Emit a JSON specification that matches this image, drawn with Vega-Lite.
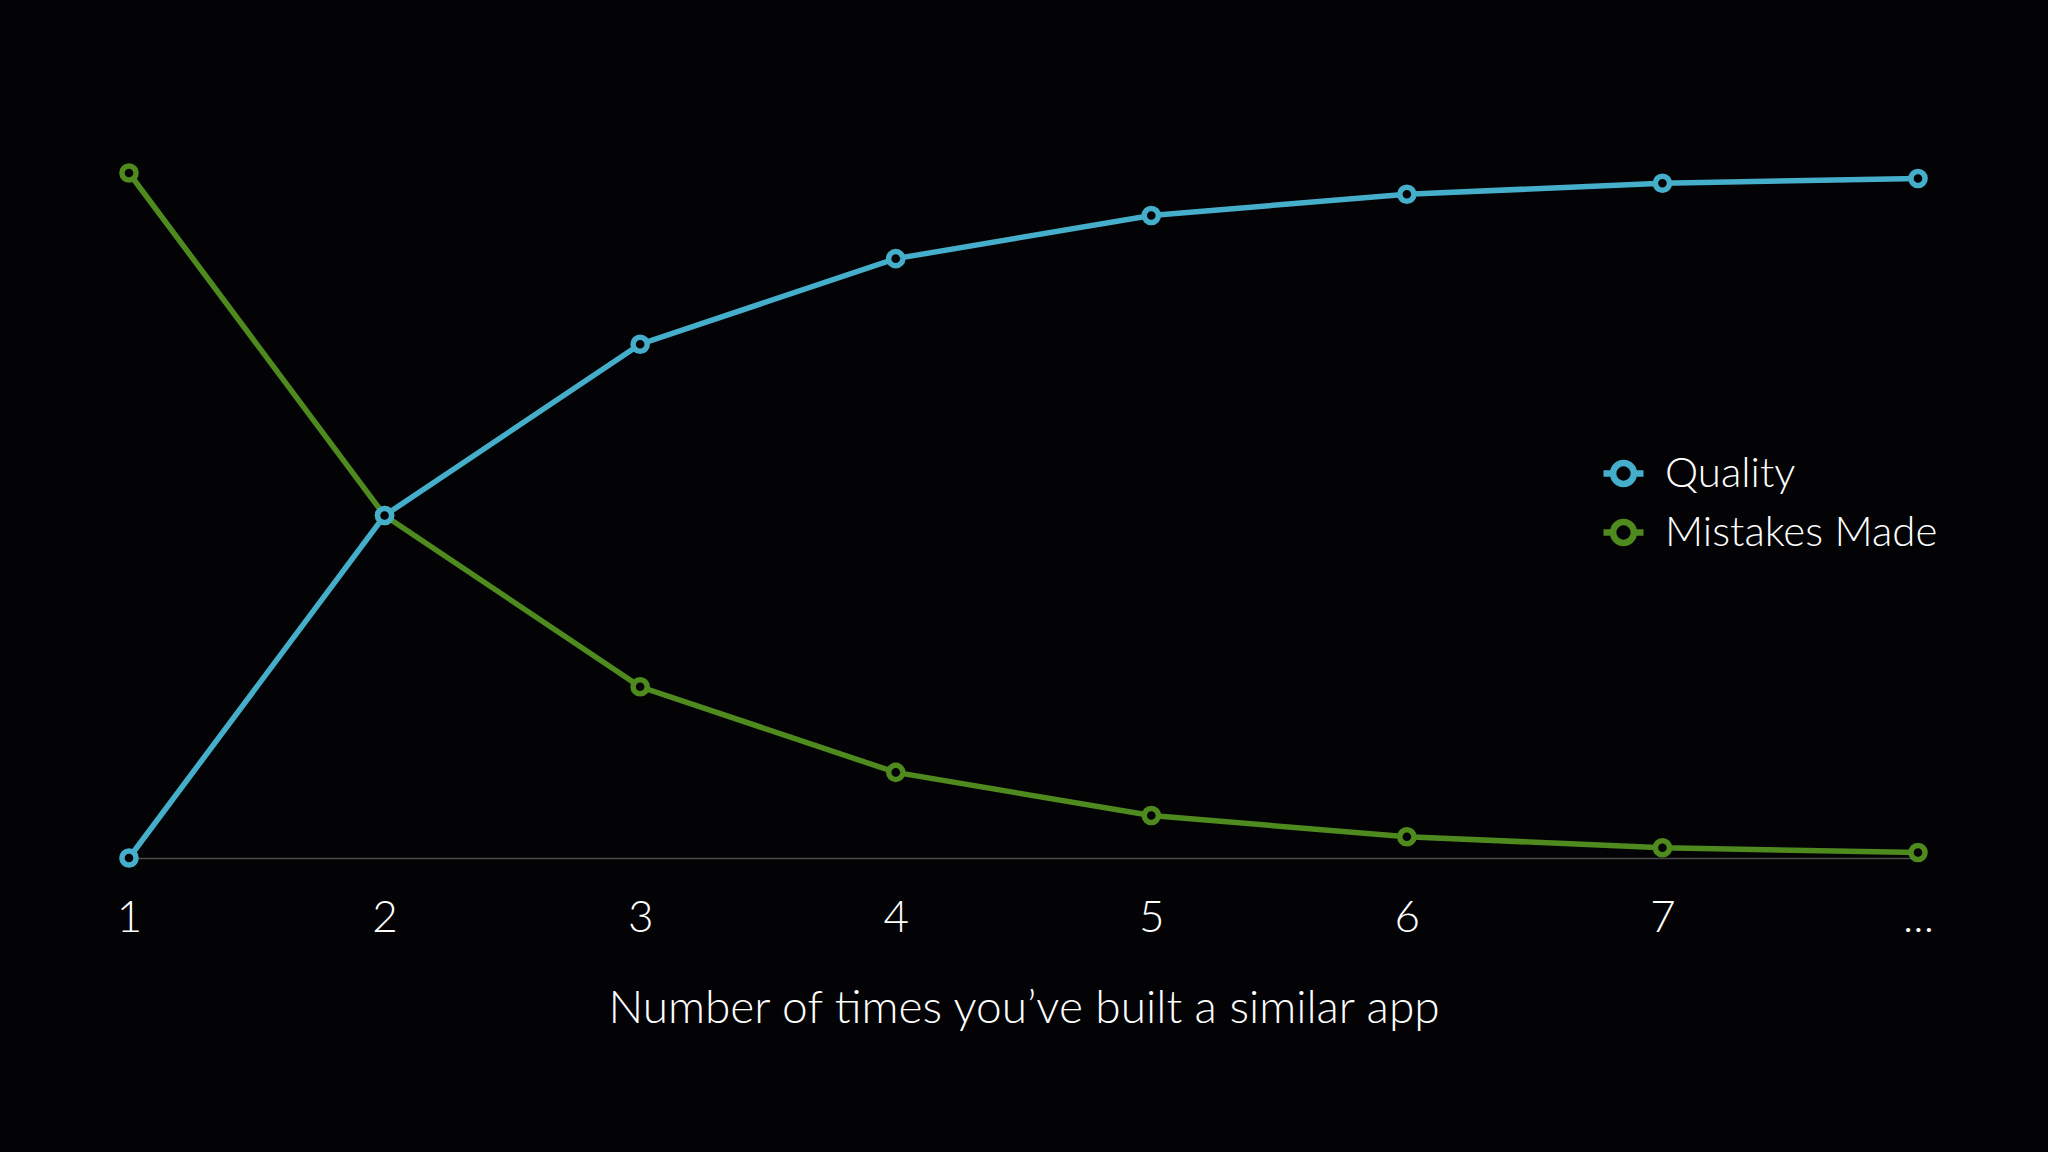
{
  "$schema": "https://vega.github.io/schema/vega-lite/v6.json",
  "width": 1789,
  "height": 685,
  "autosize": {"type": "none"},
  "padding": {"left": 129, "top": 173, "right": 130, "bottom": 294},
  "background": "#030305",
  "config": {
    "view": {"stroke": null},
    "font": "Lato",
    "axis": {"labelFont": "Lato", "titleFont": "Lato"},
    "legend": {"labelFont": "Lato"}
  },
  "data": {
    "values": [
      {"n": "1", "series": "Quality", "value": 0},
      {"n": "2", "series": "Quality", "value": 50},
      {"n": "3", "series": "Quality", "value": 75},
      {"n": "4", "series": "Quality", "value": 87.5},
      {"n": "5", "series": "Quality", "value": 93.8},
      {"n": "6", "series": "Quality", "value": 96.9},
      {"n": "7", "series": "Quality", "value": 98.5},
      {"n": "...", "series": "Quality", "value": 99.2},
      {"n": "1", "series": "Mistakes Made", "value": 100},
      {"n": "2", "series": "Mistakes Made", "value": 50},
      {"n": "3", "series": "Mistakes Made", "value": 25},
      {"n": "4", "series": "Mistakes Made", "value": 12.5},
      {"n": "5", "series": "Mistakes Made", "value": 6.2},
      {"n": "6", "series": "Mistakes Made", "value": 3.1},
      {"n": "7", "series": "Mistakes Made", "value": 1.5},
      {"n": "...", "series": "Mistakes Made", "value": 0.8}
    ]
  },
  "encoding": {
    "x": {
      "field": "n",
      "type": "ordinal",
      "sort": ["1", "2", "3", "4", "5", "6", "7", "..."],
      "scale": {"type": "point", "padding": 0},
      "axis": {
        "title": "Number of times you’ve built a similar app",
        "labelAngle": 0,
        "labelFontSize": 44,
        "labelFontWeight": 300,
        "labelColor": "#ffffff",
        "labelPadding": 38,
        "ticks": false,
        "domainColor": "#4a4a4a",
        "domainWidth": 1.5,
        "titleFontSize": 46,
        "titleFontWeight": 300,
        "titleColor": "#ffffff",
        "titlePadding": 46,
        "grid": false
      }
    },
    "y": {
      "field": "value",
      "type": "quantitative",
      "scale": {"domain": [0, 100], "nice": false, "zero": true},
      "axis": null
    },
    "color": {
      "field": "series",
      "type": "nominal",
      "scale": {"domain": ["Quality", "Mistakes Made"], "range": ["#45AECB", "#4F8A1E"]},
      "legend": {
        "title": null,
        "orient": "none",
        "legendX": 1471,
        "legendY": 277,
        "labelFontSize": 42,
        "labelFontWeight": 300,
        "labelColor": "#ffffff",
        "labelOffset": 18,
        "labelLimit": 0,
        "rowPadding": 12,
        "symbolType": "M-1,0L-0.52,0M0.52,0L1,0M0.52,0A0.52,0.52,0,1,1,-0.52,0A0.52,0.52,0,1,1,0.52,0Z",
        "symbolSize": 1600,
        "symbolStrokeWidth": 6.5,
        "symbolFillColor": "transparent"
      }
    }
  },
  "layer": [
    {
      "transform": [{"filter": "datum.series === 'Mistakes Made'"}],
      "mark": {"type": "line", "strokeWidth": 5.5}
    },
    {
      "transform": [{"filter": "datum.series === 'Quality'"}],
      "mark": {"type": "line", "strokeWidth": 5.5}
    },
    {
      "transform": [{"filter": "datum.series === 'Mistakes Made'"}],
      "mark": {"type": "point", "filled": false, "fill": "#030305", "fillOpacity": 1, "opacity": 1, "strokeWidth": 5.5, "size": 200}
    },
    {
      "transform": [{"filter": "datum.series === 'Quality'"}],
      "mark": {"type": "point", "filled": false, "fill": "#030305", "fillOpacity": 1, "opacity": 1, "strokeWidth": 5.5, "size": 200}
    }
  ]
}
